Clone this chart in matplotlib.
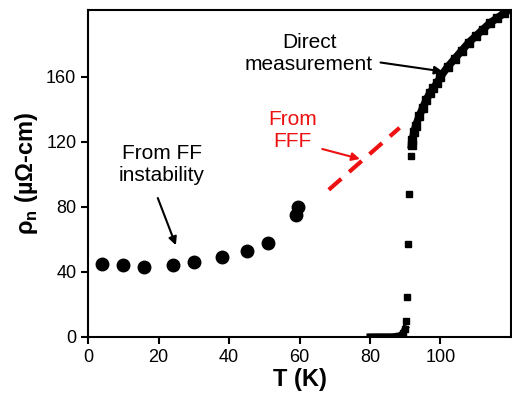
import matplotlib.pyplot as plt

plt.rcParams["font.family"] = ["Liberation Sans", "DejaVu Sans"]
plt.rcParams["mathtext.fontset"] = "custom"
plt.rcParams["mathtext.rm"] = "Liberation Sans"
plt.rcParams["mathtext.bf"] = "Liberation Sans:bold"

# FF instability points
T_ff = [4, 10, 16, 24, 30, 38, 45, 51, 59, 59.5]
rho_ff = [45, 44, 43, 44, 46, 49, 53, 58, 75, 80]

# direct measurement: superconducting state
T_sc = [80, 81, 82, 83, 84, 85, 86, 87, 88, 88.5, 89, 89.5, 90]
rho_sc = [0, 0, 0, 0, 0, 0, 0, 0.2, 0.4, 0.7, 1.3, 2.5, 5]

# direct measurement: transition (sparse points)
T_jump = [90.3, 90.6, 90.9, 91.2, 91.6]
rho_jump = [10, 24.6, 57, 88, 111.5]

# direct measurement: normal state
T_norm = [91.8, 92, 92.5, 93, 94, 95, 96, 97, 98, 99, 100, 102, 104,
          106, 108, 110, 112, 114, 116, 118, 120]
rho_norm = [118, 121, 126, 130, 136, 141, 146, 150, 153, 156, 160, 166, 171,
            176, 181, 185, 189, 193, 196, 199, 202]

# FFF extrapolation
T_fff = [68.3, 88.4]
rho_fff = [90.5, 128.6]

fig = plt.figure(figsize=(5.12, 4.03), dpi=100)
ax = fig.add_axes([0.172, 0.164, 0.826, 0.811])

ax.plot(T_ff, rho_ff, "o", color="black", ms=9)
ax.plot(T_sc, rho_sc, "s-", color="black", ms=5, lw=5)
ax.plot(T_jump, rho_jump, "s", color="black", ms=5)
ax.plot(T_norm, rho_norm, "s-", color="black", ms=6, lw=5.5)
ax.plot(T_fff, rho_fff, "--", color="#ee1111", lw=3, dashes=(4, 2.5))

ax.set_xlim(0, 120)
ax.set_ylim(0, 201)
ax.set_xticks([0, 20, 40, 60, 80, 100])
ax.set_yticks([0, 40, 80, 120, 160])
ax.tick_params(labelsize=13, width=1.5, length=5, direction="out")
for s in ax.spines.values():
    s.set_linewidth(1.5)

ax.set_xlabel("T (K)", fontsize=17, fontweight="bold", labelpad=2)
ax.set_ylabel(r"ρ$_{\mathbf{n}}$ (µΩ-cm)", fontsize=17, fontweight="bold", labelpad=4)

arrow = dict(arrowstyle="-|>", color="black", lw=1.5, mutation_scale=12)
ax.text(62.7, 174.5, "Direct\nmeasurement", ha="center", va="center",
        fontsize=15, linespacing=1.2)
ax.annotate("", xy=(101.4, 163), xytext=(82.2, 169), arrowprops=arrow)
ax.text(58, 127, "From\nFFF", color="#ee1111", ha="center", va="center",
        fontsize=15, linespacing=1.2)
ax.annotate("", xy=(77.9, 109), xytext=(65.7, 116),
            arrowprops=dict(arrowstyle="-|>", color="#ee1111", lw=1.5, mutation_scale=12))
ax.text(20.9, 106, "From FF\ninstability", ha="center", va="center",
        fontsize=15, linespacing=1.2)
ax.annotate("", xy=(25.2, 54.8), xytext=(19.5, 87), arrowprops=arrow)

fig.savefig("out.png", dpi=100)
